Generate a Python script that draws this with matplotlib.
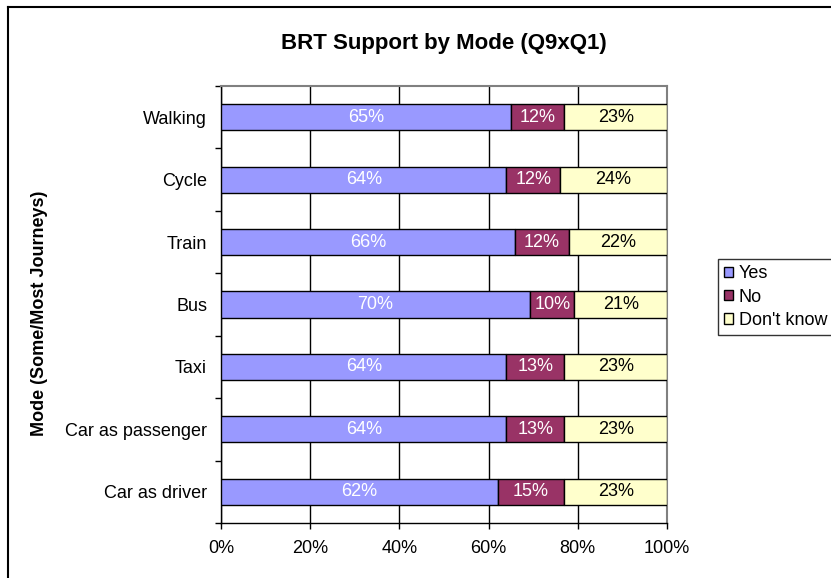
import matplotlib.pyplot as plt
import numpy as np
from matplotlib.lines import Line2D

plt.rcParams['font.family'] = ['Liberation Sans', 'DejaVu Sans']

# categories listed bottom to top
modes = ['Car as driver', 'Car as passenger', 'Taxi', 'Bus', 'Train', 'Cycle', 'Walking']
yes = [62, 64, 64, 70, 66, 64, 65]
no = [15, 13, 13, 10, 12, 12, 12]
dont_know = [23, 23, 23, 21, 22, 24, 23]

series = [('Yes', yes, '#9999FF', 'white'),
          ('No', no, '#993366', 'white'),
          ("Don't know", dont_know, '#FFFFCC', 'black')]

# 100% stacked: normalise each row to its total
totals = np.array(yes) + np.array(no) + np.array(dont_know)

fs = 13

fig = plt.figure(figsize=(8.31, 5.78), dpi=100)
ax = fig.add_axes([221 / 831, 1 - 523 / 578, 446 / 831, 437 / 578])

y = np.arange(len(modes))
left = np.zeros(len(modes))
for name, vals, color, tcolor in series:
    share = np.array(vals) / totals * 100
    bars = ax.barh(y, share, left=left, height=0.42, color=color,
                   edgecolor='black', linewidth=1, label=name, zorder=3)
    ax.bar_label(bars, labels=['%d%%' % v for v in vals], label_type='center',
                 color=tcolor, fontsize=fs)
    left += share

ax.set_xlim(0, 100)
ax.set_ylim(-0.5, len(modes) - 0.5)
ax.set_xticks(np.arange(0, 101, 20))
ax.set_xticklabels(['%d%%' % v for v in range(0, 101, 20)], fontsize=fs)
ax.set_yticks(y)
ax.set_yticklabels(modes, fontsize=fs)
ax.set_yticks(np.arange(-0.5, len(modes), 1), minor=True)
ax.tick_params(axis='y', which='major', length=0, pad=10)
ax.tick_params(axis='y', which='minor', length=4.5, width=1, direction='out')
ax.tick_params(axis='x', length=4.5, width=1, direction='out', pad=8)

ax.grid(axis='x', color='black', linewidth=1, zorder=0)
ax.set_axisbelow(True)
for side in ['top', 'right']:
    ax.spines[side].set_color('#808080')
    ax.spines[side].set_linewidth(1.5)
for side in ['left', 'bottom']:
    ax.spines[side].set_color('black')
    ax.spines[side].set_linewidth(1)

fig.text(444 / 831, 1 - 43 / 578, 'BRT Support by Mode (Q9xQ1)',
         ha='center', va='center', fontsize=16, fontweight='bold')
fig.text(40 / 831, 1 - 313 / 578, 'Mode (Some/Most Journeys)', rotation=90,
         ha='center', va='center', fontsize=fs, fontweight='bold')

leg = ax.legend(loc='upper left', bbox_to_anchor=(718 / 831, 1 - 259 / 578),
                bbox_transform=fig.transFigure, frameon=True, fancybox=False,
                edgecolor='black', fontsize=fs, handlelength=0.5, handleheight=0.5,
                handletextpad=0.3, borderpad=0.35, labelspacing=0.35, borderaxespad=0)
leg.get_frame().set_linewidth(1)

# outer chart border (cut off at right and bottom)
fig.add_artist(Line2D([8 / 831, 8 / 831], [0, 1 - 7 / 578], color='black',
                      linewidth=1.5, transform=fig.transFigure))
fig.add_artist(Line2D([8 / 831, 1], [1 - 7 / 578, 1 - 7 / 578], color='black',
                      linewidth=1.5, transform=fig.transFigure))

fig.savefig('out.png', dpi=100)
